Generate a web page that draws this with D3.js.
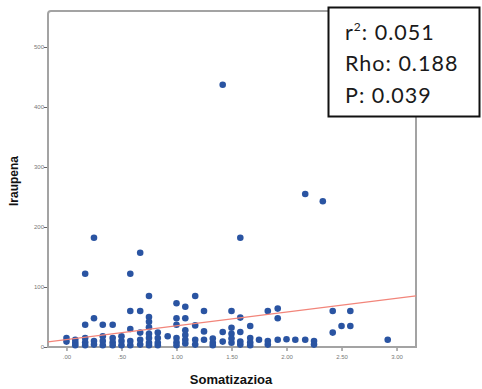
<!DOCTYPE html>
<html>
<head>
<meta charset="utf-8">
<script src="https://cdn.jsdelivr.net/npm/d3@7"></script>
<style>
  html, body { margin: 0; padding: 0; background: #fff; }
  svg { display: block; }
</style>
</head>
<body>
<svg id="chart" width="482" height="389"></svg>
<script>
// Somatization score (x) against duration (y)
const somatizazioa = [
  0.00, 0.00,
  0.08, 0.08, 0.08,
  0.17, 0.17, 0.17, 0.17, 0.17,
  0.25, 0.25, 0.25, 0.25,
  0.33, 0.33, 0.33, 0.33,
  0.42, 0.42, 0.42, 0.42,
  0.50, 0.50, 0.50,
  0.58, 0.58, 0.58, 0.58, 0.58,
  0.67, 0.67, 0.67, 0.67, 0.67,
  0.75, 0.75, 0.75, 0.75, 0.75, 0.75, 0.75, 0.75,
  0.83, 0.83, 0.83, 0.83,
  0.92,
  1.00, 1.00, 1.00, 1.00, 1.00, 1.00,
  1.08, 1.08, 1.08, 1.08, 1.08, 1.08,
  1.17, 1.17, 1.17, 1.17,
  1.25, 1.25, 1.25,
  1.33, 1.33, 1.33,
  1.42, 1.42, 1.42,
  1.50, 1.50, 1.50, 1.50, 1.50,
  1.58, 1.58, 1.58, 1.58, 1.58,
  1.67, 1.67, 1.67, 1.67,
  1.75,
  1.83, 1.83, 1.83,
  1.92, 1.92, 1.92,
  2.00,
  2.08,
  2.17, 2.17,
  2.25, 2.25,
  2.33,
  2.42, 2.42,
  2.50,
  2.58, 2.58,
  2.92
];
const iraupena = [
  15, 9,
  12, 7, 3,
  122, 37, 15, 8, 3,
  182, 48, 10, 4,
  37, 18, 10, 3,
  37, 15, 8, 3,
  18, 10, 3,
  122, 60, 30, 10, 3,
  157, 60, 24, 12, 4,
  85, 50, 42, 33, 22, 15, 7, 3,
  24, 15, 7, 3,
  18,
  73, 48, 37, 15, 8, 3,
  67, 48, 28, 20, 12, 6,
  85, 36, 12, 4,
  60, 26, 12,
  14, 7, 3,
  437, 25, 9,
  60, 32, 22, 14, 7,
  182, 49, 25, 9, 4,
  35, 15, 8, 3,
  12,
  60, 10, 4,
  64, 48, 12,
  13,
  12,
  255, 12,
  10, 4,
  243,
  60, 24,
  35,
  60, 35,
  12
];

// Linear fit line
const fitIntercept = 12.4;
const fitSlope = 22.9;

// Axis ticks
const xTickValues = [0, 0.5, 1, 1.5, 2, 2.5, 3];
const xTickLabels = [".00", ".50", "1.00", "1.50", "2.00", "2.50", "3.00"];
const yTickValues = [0, 100, 200, 300, 400, 500];
const yTickLabels = ["0", "100", "200", "300", "400", "500"];

// Statistics box
const statLabels = ["r", "Rho: ", "P: "];
const statValues = ["0.051", "0.188", "0.039"];

const svg = d3.select("#chart");

const plot = { left: 48, right: 416, top: 11, bottom: 347 };

const x = d3.scaleLinear().domain([-0.168, 3.177]).range([plot.left, plot.right]);
const y = d3.scaleLinear().domain([0, 560]).range([plot.bottom, plot.top]);

const axisColor = "#a3a3a3";

// Frame: top and right edges
svg.append("path")
  .attr("d", `M${plot.left},${plot.top + 3} Q${plot.left},${plot.top} ${plot.left + 3},${plot.top} L${plot.right},${plot.top} L${plot.right},${plot.bottom}`)
  .attr("fill", "none")
  .attr("stroke", axisColor)
  .attr("stroke-width", 2);

// Y axis
const yAxis = d3.axisLeft(y)
  .tickValues(yTickValues)
  .tickFormat((d, i) => yTickLabels[i])
  .tickSize(4)
  .tickSizeOuter(0);
const gy = svg.append("g")
  .attr("transform", `translate(${plot.left},0)`)
  .call(yAxis);
gy.select(".domain").remove();
gy.selectAll(".tick line").attr("stroke", "#666").attr("stroke-width", 1);
gy.selectAll(".tick text")
  .attr("fill", "#777")
  .attr("x", -4)
  .style("font-family", "Liberation Sans, Arial, sans-serif")
  .style("font-size", "6px");

// X axis
const xAxis = d3.axisBottom(x)
  .tickValues(xTickValues)
  .tickFormat((d, i) => xTickLabels[i])
  .tickSize(4)
  .tickSizeOuter(0);
const gx = svg.append("g")
  .attr("transform", `translate(0,${plot.bottom})`)
  .call(xAxis);
gx.select(".domain").remove();
gx.selectAll(".tick line").attr("stroke", "#666").attr("stroke-width", 1);
gx.selectAll(".tick text")
  .attr("fill", "#777")
  .attr("y", 8)
  .style("font-family", "Liberation Sans, Arial, sans-serif")
  .style("font-size", "6px");

// Axis lines
svg.append("line")
  .attr("x1", plot.left).attr("x2", plot.left)
  .attr("y1", plot.top + 3).attr("y2", plot.bottom + 1)
  .attr("stroke", axisColor).attr("stroke-width", 2);
svg.append("line")
  .attr("x1", plot.left - 1).attr("x2", plot.right + 1)
  .attr("y1", plot.bottom).attr("y2", plot.bottom)
  .attr("stroke", axisColor).attr("stroke-width", 2);

// Points
const points = somatizazioa.map((v, i) => ({ x: v, y: iraupena[i] }));
svg.append("g")
  .selectAll("circle")
  .data(points)
  .join("circle")
  .attr("cx", d => x(d.x))
  .attr("cy", d => y(d.y))
  .attr("r", 3.3)
  .attr("fill", "#2a54a2");

// Fit line across the full x range
const xDom = x.domain();
svg.append("line")
  .attr("x1", x(xDom[0])).attr("y1", y(fitIntercept + fitSlope * xDom[0]))
  .attr("x2", x(xDom[1])).attr("y2", y(fitIntercept + fitSlope * xDom[1]))
  .attr("stroke", "#f2857a")
  .attr("stroke-width", 1.3);

// Axis titles
svg.append("text")
  .attr("transform", "translate(18,181) rotate(-90)")
  .attr("text-anchor", "middle")
  .style("font-family", "Liberation Sans, Arial, sans-serif")
  .style("font-weight", "bold")
  .style("font-size", "12px")
  .attr("fill", "#111")
  .text("Iraupena");

svg.append("text")
  .attr("x", 231).attr("y", 384)
  .attr("text-anchor", "middle")
  .style("font-family", "Liberation Sans, Arial, sans-serif")
  .style("font-weight", "bold")
  .style("font-size", "13px")
  .attr("fill", "#111")
  .text("Somatizazioa");

// Statistics box
svg.append("rect")
  .attr("x", 328.5).attr("y", 7.5)
  .attr("width", 151).attr("height", 109)
  .attr("fill", "#fff")
  .attr("stroke", "#111")
  .attr("stroke-width", 2);

const statFont = "Lato, 'Open Sans', sans-serif";
const baselines = [40, 71, 103];
statLabels.forEach((lab, i) => {
  const t = svg.append("text")
    .attr("x", 345).attr("y", baselines[i])
    .style("font-family", statFont)
    .style("font-size", "21.5px")
    .style("letter-spacing", "1px")
    .attr("fill", "#1a1a1a");
  if (i === 0) {
    t.append("tspan").text(lab);
    t.append("tspan").attr("dy", -9).style("font-size", "12px").text("2");
    t.append("tspan").attr("dy", 9).text(": " + statValues[i]);
  } else {
    t.text(lab + statValues[i]);
  }
});
</script>
</body>
</html>
